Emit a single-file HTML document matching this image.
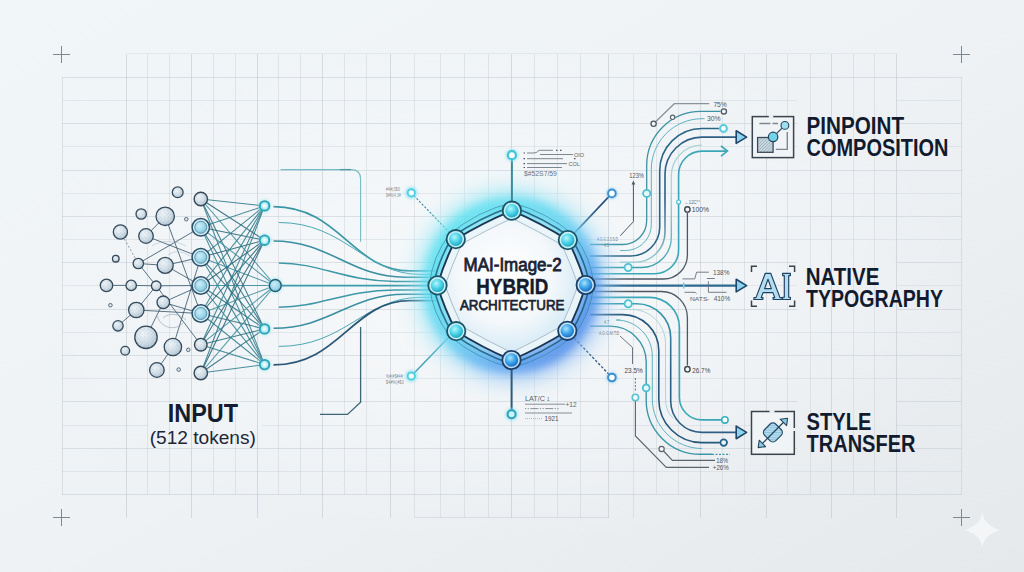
<!DOCTYPE html><html><head><meta charset="utf-8"><style>
html,body{margin:0;padding:0;width:1024px;height:572px;overflow:hidden;background:#eceff3;}
svg{display:block;}
text{font-family:"Liberation Sans",sans-serif;}
</style></head><body>
<svg width="1024" height="572" viewBox="0 0 1024 572">
<defs>
<linearGradient id="bg" x1="0" y1="0" x2="1" y2="1">
<stop offset="0" stop-color="#f1f6f9"/><stop offset="0.5" stop-color="#eef2f5"/><stop offset="1" stop-color="#e6e9ec"/>
</linearGradient>
<radialGradient id="bgw" cx="0.5" cy="0.5" r="0.5">
<stop offset="0" stop-color="#ffffff" stop-opacity="0.55"/><stop offset="1" stop-color="#ffffff" stop-opacity="0"/>
</radialGradient>
<radialGradient id="gnode" cx="0.38" cy="0.35" r="0.75">
<stop offset="0" stop-color="#eef4f8"/><stop offset="0.55" stop-color="#d0dde6"/><stop offset="1" stop-color="#a9bccb"/>
</radialGradient>
<pattern id="speck" width="4" height="4" patternUnits="userSpaceOnUse"><circle cx="0.8" cy="0.9" r="0.45" fill="#7d95a6" fill-opacity="0.55"/><circle cx="2.9" cy="2.6" r="0.4" fill="#7d95a6" fill-opacity="0.45"/><circle cx="2.2" cy="0.5" r="0.3" fill="#ffffff" fill-opacity="0.7"/></pattern>
<radialGradient id="cnode" cx="0.4" cy="0.38" r="0.65">
<stop offset="0" stop-color="#cdeef7"/><stop offset="0.6" stop-color="#a0d8ea"/><stop offset="1" stop-color="#7cc2da"/>
</radialGradient>
<radialGradient id="tnode" cx="0.5" cy="0.5" r="0.5">
<stop offset="0" stop-color="#ffffff"/><stop offset="0.5" stop-color="#c8f2f8"/><stop offset="1" stop-color="#6fd3e2"/>
</radialGradient>
<radialGradient id="hnode" cx="0.4" cy="0.35" r="0.65">
<stop offset="0" stop-color="#b4f6fb"/><stop offset="0.55" stop-color="#4fd5e8"/><stop offset="1" stop-color="#22a9c6"/>
</radialGradient>
<radialGradient id="hnodeb" cx="0.4" cy="0.35" r="0.65">
<stop offset="0" stop-color="#a8e4fb"/><stop offset="0.55" stop-color="#3fa6ea"/><stop offset="1" stop-color="#1f6fc4"/>
</radialGradient>
<radialGradient id="hubin" cx="0.45" cy="0.42" r="0.6">
<stop offset="0" stop-color="#ffffff"/><stop offset="0.6" stop-color="#f4f8fb"/><stop offset="1" stop-color="#d3e9f5"/>
</radialGradient>
<filter id="blur8" x="-50%" y="-50%" width="200%" height="200%"><feGaussianBlur stdDeviation="9"/></filter><filter id="blur10" x="-50%" y="-50%" width="200%" height="200%"><feGaussianBlur stdDeviation="10"/></filter><filter id="blur12" x="-50%" y="-50%" width="200%" height="200%"><feGaussianBlur stdDeviation="13"/></filter>
<filter id="blur3" x="-50%" y="-50%" width="200%" height="200%"><feGaussianBlur stdDeviation="5"/></filter>
<filter id="blur05" x="-50%" y="-50%" width="200%" height="200%"><feGaussianBlur stdDeviation="0.6"/></filter><filter id="blur1" x="-50%" y="-50%" width="200%" height="200%"><feGaussianBlur stdDeviation="1.2"/></filter>
<pattern id="hatch" width="2.2" height="2.2" patternUnits="userSpaceOnUse" patternTransform="rotate(45)"><rect width="2.2" height="2.2" fill="#cfdde6"/><rect width="0.9" height="2.2" fill="#9fb3c1"/></pattern><pattern id="stripe" width="2.4" height="2.4" patternUnits="userSpaceOnUse" patternTransform="rotate(45)"><rect width="2.4" height="2.4" fill="#b5dcee"/><rect width="0.9" height="2.4" fill="#8cc3de"/></pattern><pattern id="dots" width="3" height="3" patternUnits="userSpaceOnUse"><rect width="3" height="3" fill="#b8cad6"/><circle cx="1" cy="1" r="0.7" fill="#e8f0f5"/></pattern>
</defs>
<rect width="1024" height="572" fill="url(#bg)"/>
<ellipse cx="500" cy="290" rx="480" ry="260" fill="url(#bgw)"/>
<g shape-rendering="crispEdges" stroke-width="1"><line x1="62" y1="77.3" x2="962" y2="77.3" stroke="#c4ccd4" stroke-opacity="0.55" /><line x1="62" y1="100.5" x2="797" y2="100.5" stroke="#c4ccd4" stroke-opacity="0.35" /><line x1="897" y1="100.5" x2="962" y2="100.5" stroke="#c4ccd4" stroke-opacity="0.35" /><line x1="62" y1="123.7" x2="797" y2="123.7" stroke="#c4ccd4" stroke-opacity="0.55" /><line x1="897" y1="123.7" x2="962" y2="123.7" stroke="#c4ccd4" stroke-opacity="0.55" /><line x1="62" y1="146.8" x2="797" y2="146.8" stroke="#c4ccd4" stroke-opacity="0.35" /><line x1="897" y1="146.8" x2="962" y2="146.8" stroke="#c4ccd4" stroke-opacity="0.35" /><line x1="62" y1="170.0" x2="962" y2="170.0" stroke="#c4ccd4" stroke-opacity="0.55" /><line x1="62" y1="193.2" x2="962" y2="193.2" stroke="#c4ccd4" stroke-opacity="0.35" /><line x1="62" y1="216.4" x2="962" y2="216.4" stroke="#c4ccd4" stroke-opacity="0.55" /><line x1="62" y1="239.6" x2="962" y2="239.6" stroke="#c4ccd4" stroke-opacity="0.35" /><line x1="62" y1="262.7" x2="797" y2="262.7" stroke="#c4ccd4" stroke-opacity="0.55" /><line x1="897" y1="262.7" x2="962" y2="262.7" stroke="#c4ccd4" stroke-opacity="0.55" /><line x1="62" y1="285.9" x2="797" y2="285.9" stroke="#c4ccd4" stroke-opacity="0.35" /><line x1="897" y1="285.9" x2="962" y2="285.9" stroke="#c4ccd4" stroke-opacity="0.35" /><line x1="62" y1="309.1" x2="797" y2="309.1" stroke="#c4ccd4" stroke-opacity="0.55" /><line x1="897" y1="309.1" x2="962" y2="309.1" stroke="#c4ccd4" stroke-opacity="0.55" /><line x1="62" y1="332.3" x2="962" y2="332.3" stroke="#c4ccd4" stroke-opacity="0.35" /><line x1="62" y1="355.5" x2="962" y2="355.5" stroke="#c4ccd4" stroke-opacity="0.55" /><line x1="62" y1="378.6" x2="962" y2="378.6" stroke="#c4ccd4" stroke-opacity="0.35" /><line x1="62" y1="401.8" x2="797" y2="401.8" stroke="#c4ccd4" stroke-opacity="0.55" /><line x1="897" y1="401.8" x2="962" y2="401.8" stroke="#c4ccd4" stroke-opacity="0.55" /><line x1="62" y1="425.0" x2="148" y2="425.0" stroke="#c4ccd4" stroke-opacity="0.35" /><line x1="262" y1="425.0" x2="797" y2="425.0" stroke="#c4ccd4" stroke-opacity="0.35" /><line x1="897" y1="425.0" x2="962" y2="425.0" stroke="#c4ccd4" stroke-opacity="0.35" /><line x1="62" y1="448.2" x2="797" y2="448.2" stroke="#c4ccd4" stroke-opacity="0.55" /><line x1="897" y1="448.2" x2="962" y2="448.2" stroke="#c4ccd4" stroke-opacity="0.55" /><line x1="62" y1="471.4" x2="962" y2="471.4" stroke="#c4ccd4" stroke-opacity="0.35" /><line x1="62" y1="494.5" x2="962" y2="494.5" stroke="#c4ccd4" stroke-opacity="0.55" /><line x1="62.5" y1="77.3" x2="62.5" y2="494.9" stroke="#c4ccd4" stroke-opacity="0.55"/><line x1="414.9" y1="517.5" x2="608.5" y2="517.5" stroke="#c0c8d0" stroke-opacity="0.45"/><line x1="126.9" y1="53.5" x2="896.5" y2="53.5" stroke="#c4ccd4" stroke-opacity="0.3"/><line x1="961.8" y1="77.3" x2="961.8" y2="494.9" stroke="#c4ccd4" stroke-opacity="0.55"/><line x1="126.9" y1="53.5" x2="126.9" y2="517.5" stroke="#c0c8d0" stroke-opacity="0.6" /><line x1="147.5" y1="53.5" x2="147.5" y2="494.9" stroke="#c0c8d0" stroke-opacity="0.38" /><line x1="169.4" y1="53.5" x2="169.4" y2="494.9" stroke="#c0c8d0" stroke-opacity="0.38" /><line x1="191.3" y1="53.5" x2="191.3" y2="517.5" stroke="#c0c8d0" stroke-opacity="0.6" /><line x1="213.4" y1="53.5" x2="213.4" y2="494.9" stroke="#c0c8d0" stroke-opacity="0.38" /><line x1="235.3" y1="53.5" x2="235.3" y2="494.9" stroke="#c0c8d0" stroke-opacity="0.38" /><line x1="257.5" y1="53.5" x2="257.5" y2="517.5" stroke="#c0c8d0" stroke-opacity="0.6" /><line x1="278.7" y1="53.5" x2="278.7" y2="494.9" stroke="#c0c8d0" stroke-opacity="0.38" /><line x1="300.9" y1="53.5" x2="300.9" y2="494.9" stroke="#c0c8d0" stroke-opacity="0.38" /><line x1="322.6" y1="53.5" x2="322.6" y2="517.5" stroke="#c0c8d0" stroke-opacity="0.6" /><line x1="344.7" y1="53.5" x2="344.7" y2="494.9" stroke="#c0c8d0" stroke-opacity="0.38" /><line x1="366.6" y1="53.5" x2="366.6" y2="494.9" stroke="#c0c8d0" stroke-opacity="0.38" /><line x1="390.2" y1="53.5" x2="390.2" y2="517.5" stroke="#c0c8d0" stroke-opacity="0.6" /><line x1="414.9" y1="53.5" x2="414.9" y2="517.5" stroke="#c0c8d0" stroke-opacity="0.38" /><line x1="440.5" y1="53.5" x2="440.5" y2="517.5" stroke="#c0c8d0" stroke-opacity="0.38" /><line x1="464.6" y1="53.5" x2="464.6" y2="517.5" stroke="#c0c8d0" stroke-opacity="0.38" /><line x1="488.1" y1="53.5" x2="488.1" y2="517.5" stroke="#c0c8d0" stroke-opacity="0.38" /><line x1="511.6" y1="53.5" x2="511.6" y2="517.5" stroke="#c0c8d0" stroke-opacity="0.6" /><line x1="534.4" y1="53.5" x2="534.4" y2="517.5" stroke="#c0c8d0" stroke-opacity="0.38" /><line x1="557.9" y1="53.5" x2="557.9" y2="517.5" stroke="#c0c8d0" stroke-opacity="0.38" /><line x1="580.5" y1="53.5" x2="580.5" y2="517.5" stroke="#c0c8d0" stroke-opacity="0.38" /><line x1="608.5" y1="53.5" x2="608.5" y2="517.5" stroke="#c0c8d0" stroke-opacity="0.6" /><line x1="633.2" y1="53.5" x2="633.2" y2="517.5" stroke="#c0c8d0" stroke-opacity="0.38" /><line x1="656.4" y1="53.5" x2="656.4" y2="494.9" stroke="#c0c8d0" stroke-opacity="0.38" /><line x1="678.3" y1="53.5" x2="678.3" y2="494.9" stroke="#c0c8d0" stroke-opacity="0.38" /><line x1="700.9" y1="53.5" x2="700.9" y2="517.5" stroke="#c0c8d0" stroke-opacity="0.6" /><line x1="722.3" y1="53.5" x2="722.3" y2="494.9" stroke="#c0c8d0" stroke-opacity="0.38" /><line x1="744.7" y1="53.5" x2="744.7" y2="494.9" stroke="#c0c8d0" stroke-opacity="0.38" /><line x1="766.6" y1="53.5" x2="766.6" y2="517.5" stroke="#c0c8d0" stroke-opacity="0.6" /><line x1="787.9" y1="53.5" x2="787.9" y2="494.9" stroke="#c0c8d0" stroke-opacity="0.38" /><line x1="810.3" y1="53.5" x2="810.3" y2="494.9" stroke="#c0c8d0" stroke-opacity="0.38" /><line x1="831.6" y1="53.5" x2="831.6" y2="517.5" stroke="#c0c8d0" stroke-opacity="0.6" /><line x1="853.5" y1="53.5" x2="853.5" y2="494.9" stroke="#c0c8d0" stroke-opacity="0.38" /><line x1="874.6" y1="53.5" x2="874.6" y2="494.9" stroke="#c0c8d0" stroke-opacity="0.38" /><line x1="896.5" y1="53.5" x2="896.5" y2="517.5" stroke="#c0c8d0" stroke-opacity="0.6" /></g>
<path d="M53.0,54.5H70.0M61.5,46.0V63.0" stroke="#80888f" stroke-width="1"/><path d="M953.0,54.5H970.0M961.5,46.0V63.0" stroke="#80888f" stroke-width="1"/><path d="M53.0,517.5H70.0M61.5,509.0V526.0" stroke="#80888f" stroke-width="1"/><path d="M953.0,517.5H970.0M961.5,509.0V526.0" stroke="#80888f" stroke-width="1"/>

<g id="leftnet"><line x1="200.8" y1="199.0" x2="264.6" y2="205.9" stroke="#327d8c" stroke-width="1.05" stroke-opacity="0.9"/><line x1="200.8" y1="199.0" x2="264.6" y2="240.2" stroke="#2b6475" stroke-width="1.05" stroke-opacity="0.9"/><line x1="200.8" y1="199.0" x2="275.3" y2="285.5" stroke="#3d8d9b" stroke-width="1.05" stroke-opacity="0.9"/><line x1="200.8" y1="199.0" x2="264.6" y2="328.9" stroke="#2f6f80" stroke-width="1.05" stroke-opacity="0.9"/><line x1="200.8" y1="199.0" x2="264.6" y2="364.6" stroke="#368291" stroke-width="1.05" stroke-opacity="0.9"/><line x1="200.8" y1="227.3" x2="264.6" y2="205.9" stroke="#327d8c" stroke-width="1.05" stroke-opacity="0.9"/><line x1="200.8" y1="227.3" x2="264.6" y2="240.2" stroke="#2b6475" stroke-width="1.05" stroke-opacity="0.9"/><line x1="200.8" y1="227.3" x2="275.3" y2="285.5" stroke="#3d8d9b" stroke-width="1.05" stroke-opacity="0.9"/><line x1="200.8" y1="227.3" x2="264.6" y2="328.9" stroke="#2f6f80" stroke-width="1.05" stroke-opacity="0.9"/><line x1="200.8" y1="227.3" x2="264.6" y2="364.6" stroke="#368291" stroke-width="1.05" stroke-opacity="0.9"/><line x1="200.8" y1="257.3" x2="264.6" y2="205.9" stroke="#327d8c" stroke-width="1.05" stroke-opacity="0.9"/><line x1="200.8" y1="257.3" x2="264.6" y2="240.2" stroke="#2b6475" stroke-width="1.05" stroke-opacity="0.9"/><line x1="200.8" y1="257.3" x2="275.3" y2="285.5" stroke="#3d8d9b" stroke-width="1.05" stroke-opacity="0.9"/><line x1="200.8" y1="257.3" x2="264.6" y2="328.9" stroke="#2f6f80" stroke-width="1.05" stroke-opacity="0.9"/><line x1="200.8" y1="257.3" x2="264.6" y2="364.6" stroke="#368291" stroke-width="1.05" stroke-opacity="0.9"/><line x1="200.8" y1="285.5" x2="264.6" y2="205.9" stroke="#327d8c" stroke-width="1.05" stroke-opacity="0.9"/><line x1="200.8" y1="285.5" x2="264.6" y2="240.2" stroke="#2b6475" stroke-width="1.05" stroke-opacity="0.9"/><line x1="200.8" y1="285.5" x2="275.3" y2="285.5" stroke="#3d8d9b" stroke-width="1.05" stroke-opacity="0.9"/><line x1="200.8" y1="285.5" x2="264.6" y2="328.9" stroke="#2f6f80" stroke-width="1.05" stroke-opacity="0.9"/><line x1="200.8" y1="285.5" x2="264.6" y2="364.6" stroke="#368291" stroke-width="1.05" stroke-opacity="0.9"/><line x1="200.8" y1="313.5" x2="264.6" y2="205.9" stroke="#327d8c" stroke-width="1.05" stroke-opacity="0.9"/><line x1="200.8" y1="313.5" x2="264.6" y2="240.2" stroke="#2b6475" stroke-width="1.05" stroke-opacity="0.9"/><line x1="200.8" y1="313.5" x2="275.3" y2="285.5" stroke="#3d8d9b" stroke-width="1.05" stroke-opacity="0.9"/><line x1="200.8" y1="313.5" x2="264.6" y2="328.9" stroke="#2f6f80" stroke-width="1.05" stroke-opacity="0.9"/><line x1="200.8" y1="313.5" x2="264.6" y2="364.6" stroke="#368291" stroke-width="1.05" stroke-opacity="0.9"/><line x1="200.8" y1="344.7" x2="264.6" y2="205.9" stroke="#327d8c" stroke-width="1.05" stroke-opacity="0.9"/><line x1="200.8" y1="344.7" x2="264.6" y2="240.2" stroke="#2b6475" stroke-width="1.05" stroke-opacity="0.9"/><line x1="200.8" y1="344.7" x2="275.3" y2="285.5" stroke="#3d8d9b" stroke-width="1.05" stroke-opacity="0.9"/><line x1="200.8" y1="344.7" x2="264.6" y2="328.9" stroke="#2f6f80" stroke-width="1.05" stroke-opacity="0.9"/><line x1="200.8" y1="344.7" x2="264.6" y2="364.6" stroke="#368291" stroke-width="1.05" stroke-opacity="0.9"/><line x1="200.8" y1="373.0" x2="264.6" y2="205.9" stroke="#327d8c" stroke-width="1.05" stroke-opacity="0.9"/><line x1="200.8" y1="373.0" x2="264.6" y2="240.2" stroke="#2b6475" stroke-width="1.05" stroke-opacity="0.9"/><line x1="200.8" y1="373.0" x2="275.3" y2="285.5" stroke="#3d8d9b" stroke-width="1.05" stroke-opacity="0.9"/><line x1="200.8" y1="373.0" x2="264.6" y2="328.9" stroke="#2f6f80" stroke-width="1.05" stroke-opacity="0.9"/><line x1="200.8" y1="373.0" x2="264.6" y2="364.6" stroke="#368291" stroke-width="1.05" stroke-opacity="0.9"/><line x1="106.5" y1="285.4" x2="131.2" y2="285.4" stroke="#3d5b6e" stroke-width="1.0" stroke-opacity="0.85"/><line x1="131.2" y1="285.4" x2="156.2" y2="285.8" stroke="#3d5b6e" stroke-width="1.0" stroke-opacity="0.85"/><line x1="156.2" y1="285.8" x2="200.8" y2="285.5" stroke="#3d5b6e" stroke-width="1.0" stroke-opacity="0.85"/><line x1="146" y1="236" x2="165.2" y2="216.3" stroke="#3d5b6e" stroke-width="1.0" stroke-opacity="0.85"/><line x1="146" y1="236" x2="200.8" y2="257.3" stroke="#3d5b6e" stroke-width="1.0" stroke-opacity="0.85"/><line x1="138.3" y1="263.5" x2="200.8" y2="227.3" stroke="#3d5b6e" stroke-width="1.0" stroke-opacity="0.85"/><line x1="138.3" y1="263.5" x2="165.2" y2="265.4" stroke="#3d5b6e" stroke-width="1.0" stroke-opacity="0.85"/><line x1="165.2" y1="216.3" x2="200.8" y2="313.5" stroke="#3d5b6e" stroke-width="1.0" stroke-opacity="0.85"/><line x1="136.3" y1="310" x2="118" y2="325.8" stroke="#3d5b6e" stroke-width="1.0" stroke-opacity="0.85"/><line x1="136.3" y1="310" x2="156.2" y2="285.8" stroke="#3d5b6e" stroke-width="1.0" stroke-opacity="0.85"/><line x1="136.3" y1="310" x2="200.8" y2="313.5" stroke="#3d5b6e" stroke-width="1.0" stroke-opacity="0.85"/><line x1="165.2" y1="265.4" x2="200.8" y2="257.3" stroke="#3d5b6e" stroke-width="1.0" stroke-opacity="0.85"/><line x1="165.2" y1="265.4" x2="200.8" y2="285.5" stroke="#3d5b6e" stroke-width="1.0" stroke-opacity="0.85"/><line x1="146" y1="337.3" x2="163.3" y2="302.3" stroke="#3d5b6e" stroke-width="1.0" stroke-opacity="0.85"/><line x1="172.9" y1="347" x2="156.9" y2="370" stroke="#3d5b6e" stroke-width="1.0" stroke-opacity="0.85"/><line x1="172.9" y1="347" x2="200.8" y2="257.3" stroke="#3d5b6e" stroke-width="1.0" stroke-opacity="0.85"/><line x1="138.3" y1="263.5" x2="156.2" y2="285.8" stroke="#3d5b6e" stroke-width="1.0" stroke-opacity="0.85"/><line x1="156.2" y1="285.8" x2="200.8" y2="344.7" stroke="#3d5b6e" stroke-width="1.0" stroke-opacity="0.85"/><line x1="163.3" y1="302.3" x2="200.8" y2="313.5" stroke="#3d5b6e" stroke-width="1.0" stroke-opacity="0.85"/><line x1="163.3" y1="302.3" x2="200.8" y2="285.5" stroke="#3d5b6e" stroke-width="1.0" stroke-opacity="0.85"/><path d="M120.4,232 L138.3,263.5" stroke="#7a8b97" stroke-width="0.9" stroke-dasharray="2 2"/><path d="M157.5,316 C160,328 176,332 184,322 M163,318 C170,312 180,314 186,320" fill="none" stroke="#8a9ba8" stroke-width="0.8" stroke-opacity="0.7"/><path d="M152,246 C160,240 175,240 186,246 M168,255 C175,250 182,251 190,256" fill="none" stroke="#9aabb8" stroke-width="0.7" stroke-opacity="0.6"/><circle cx="177.7" cy="192.3" r="5.4" fill="url(#gnode)" stroke="#34495a" stroke-width="1.3"/><circle cx="177.7" cy="192.3" r="4.6000000000000005" fill="url(#speck)"/><circle cx="165.2" cy="216.3" r="9.2" fill="url(#gnode)" stroke="#34495a" stroke-width="1.3"/><circle cx="165.2" cy="216.3" r="8.399999999999999" fill="url(#speck)"/><circle cx="141.2" cy="214" r="5.2" fill="url(#gnode)" stroke="#34495a" stroke-width="1.3"/><circle cx="141.2" cy="214" r="4.4" fill="url(#speck)"/><circle cx="120.4" cy="232" r="7.1" fill="url(#gnode)" stroke="#34495a" stroke-width="1.3"/><circle cx="120.4" cy="232" r="6.3" fill="url(#speck)"/><circle cx="146" cy="236" r="7.3" fill="url(#gnode)" stroke="#34495a" stroke-width="1.3"/><circle cx="146" cy="236" r="6.5" fill="url(#speck)"/><circle cx="115.8" cy="258.7" r="3.3" fill="url(#gnode)" stroke="#34495a" stroke-width="1.3"/><circle cx="115.8" cy="258.7" r="2.5" fill="url(#speck)"/><circle cx="138.3" cy="263.5" r="5.2" fill="url(#gnode)" stroke="#34495a" stroke-width="1.3"/><circle cx="138.3" cy="263.5" r="4.4" fill="url(#speck)"/><circle cx="165.2" cy="265.4" r="8" fill="url(#gnode)" stroke="#34495a" stroke-width="1.3"/><circle cx="165.2" cy="265.4" r="7.2" fill="url(#speck)"/><circle cx="106.5" cy="285.4" r="6.2" fill="url(#gnode)" stroke="#34495a" stroke-width="1.3"/><circle cx="106.5" cy="285.4" r="5.4" fill="url(#speck)"/><circle cx="131.2" cy="285.4" r="5.2" fill="url(#gnode)" stroke="#34495a" stroke-width="1.3"/><circle cx="131.2" cy="285.4" r="4.4" fill="url(#speck)"/><circle cx="156.2" cy="285.8" r="4.8" fill="url(#gnode)" stroke="#34495a" stroke-width="1.3"/><circle cx="156.2" cy="285.8" r="4.0" fill="url(#speck)"/><circle cx="136.3" cy="310" r="7.7" fill="url(#gnode)" stroke="#34495a" stroke-width="1.3"/><circle cx="136.3" cy="310" r="6.9" fill="url(#speck)"/><circle cx="163.3" cy="302.3" r="6.3" fill="url(#gnode)" stroke="#34495a" stroke-width="1.3"/><circle cx="163.3" cy="302.3" r="5.5" fill="url(#speck)"/><circle cx="118" cy="325.8" r="5.2" fill="url(#gnode)" stroke="#34495a" stroke-width="1.3"/><circle cx="118" cy="325.8" r="4.4" fill="url(#speck)"/><circle cx="146" cy="337.3" r="11.2" fill="url(#gnode)" stroke="#34495a" stroke-width="1.3"/><circle cx="146" cy="337.3" r="10.399999999999999" fill="url(#speck)"/><circle cx="172.9" cy="347" r="8.7" fill="url(#gnode)" stroke="#34495a" stroke-width="1.3"/><circle cx="172.9" cy="347" r="7.8999999999999995" fill="url(#speck)"/><circle cx="125.2" cy="350.8" r="4.4" fill="url(#gnode)" stroke="#34495a" stroke-width="1.3"/><circle cx="125.2" cy="350.8" r="3.6000000000000005" fill="url(#speck)"/><circle cx="156.9" cy="370" r="7.3" fill="url(#gnode)" stroke="#34495a" stroke-width="1.3"/><circle cx="156.9" cy="370" r="6.5" fill="url(#speck)"/><circle cx="186.3" cy="219.2" r="1.8" fill="#dfe6eb" stroke="#4b5f6e" stroke-width="0.9"/><circle cx="110.4" cy="305.2" r="1.8" fill="#dfe6eb" stroke="#4b5f6e" stroke-width="0.9"/><circle cx="188.3" cy="349.8" r="1.8" fill="#dfe6eb" stroke="#4b5f6e" stroke-width="0.9"/><circle cx="178.7" cy="369.6" r="1.8" fill="#dfe6eb" stroke="#4b5f6e" stroke-width="0.9"/><circle cx="200.8" cy="199.0" r="6.7" fill="url(#gnode)" stroke="#34495a" stroke-width="1.4"/><circle cx="200.8" cy="199.0" r="5.9" fill="url(#speck)"/><circle cx="200.8" cy="227.3" r="8.7" fill="#d3ebf4" stroke="#2c5066" stroke-width="1.5"/><circle cx="200.8" cy="227.3" r="5.999999999999999" fill="url(#cnode)" stroke="#4f8ea6" stroke-width="0.9"/><circle cx="200.8" cy="257.3" r="8.7" fill="#d3ebf4" stroke="#2c5066" stroke-width="1.5"/><circle cx="200.8" cy="257.3" r="5.999999999999999" fill="url(#cnode)" stroke="#4f8ea6" stroke-width="0.9"/><circle cx="200.8" cy="285.5" r="8.7" fill="#d3ebf4" stroke="#2c5066" stroke-width="1.5"/><circle cx="200.8" cy="285.5" r="5.999999999999999" fill="url(#cnode)" stroke="#4f8ea6" stroke-width="0.9"/><circle cx="200.8" cy="313.5" r="8.7" fill="#d3ebf4" stroke="#2c5066" stroke-width="1.5"/><circle cx="200.8" cy="313.5" r="5.999999999999999" fill="url(#cnode)" stroke="#4f8ea6" stroke-width="0.9"/><circle cx="200.8" cy="344.7" r="6.3" fill="url(#gnode)" stroke="#34495a" stroke-width="1.4"/><circle cx="200.8" cy="344.7" r="5.5" fill="url(#speck)"/><circle cx="200.8" cy="373.0" r="6.7" fill="url(#gnode)" stroke="#34495a" stroke-width="1.4"/><circle cx="200.8" cy="373.0" r="5.9" fill="url(#speck)"/><circle cx="264.6" cy="205.9" r="7.3" fill="#8fe6f2" fill-opacity="0.35" filter="url(#blur1)"/><circle cx="264.6" cy="205.9" r="4.8" fill="url(#tnode)" stroke="#2aa3b8" stroke-width="1.8"/><circle cx="264.6" cy="240.2" r="7.3" fill="#8fe6f2" fill-opacity="0.35" filter="url(#blur1)"/><circle cx="264.6" cy="240.2" r="4.8" fill="url(#tnode)" stroke="#2aa3b8" stroke-width="1.8"/><circle cx="275.3" cy="285.5" r="8.5" fill="#8fe6f2" fill-opacity="0.35" filter="url(#blur1)"/><circle cx="275.3" cy="285.5" r="5.9" fill="url(#cnode)" stroke="#235f74" stroke-width="1.5"/><circle cx="264.6" cy="328.9" r="7.3" fill="#8fe6f2" fill-opacity="0.35" filter="url(#blur1)"/><circle cx="264.6" cy="328.9" r="4.8" fill="url(#tnode)" stroke="#2aa3b8" stroke-width="1.8"/><circle cx="264.6" cy="364.6" r="7.3" fill="#8fe6f2" fill-opacity="0.35" filter="url(#blur1)"/><circle cx="264.6" cy="364.6" r="4.8" fill="url(#tnode)" stroke="#2aa3b8" stroke-width="1.8"/></g>
<g id="leftcurves"><path d="M273.5,206.7 C340,206.7 352,270.8 410,270.8 L436,270.8" fill="none" stroke="#3a97a6" stroke-width="1.7" stroke-opacity="1"/><path d="M278.8,222.5 C345,222.5 365,274.4 420,274.4 L436,274.4" fill="none" stroke="#4aa7b3" stroke-width="1.0" stroke-opacity="1"/><path d="M273.5,241.0 C330,241.0 350,277.2 405,277.2 L434,277.2" fill="none" stroke="#3a8fa0" stroke-width="1.6" stroke-opacity="1"/><path d="M278.8,263.0 C320,263.0 345,281.4 395,281.4 L434,281.4" fill="none" stroke="#3d98a8" stroke-width="1.5" stroke-opacity="1"/><path d="M282,285.6 L430,285.6" stroke="#3b9cad" stroke-width="1.9"/><path d="M278.8,307.2 C320,307.2 345,290.0 395,290.0 L434,290.0" fill="none" stroke="#3d98a8" stroke-width="1.5" stroke-opacity="1"/><path d="M273.5,328.3 C330,328.3 350,294.2 405,294.2 L434,294.2" fill="none" stroke="#3a8fa0" stroke-width="1.6" stroke-opacity="1"/><path d="M278.8,346.4 C345,346.4 365,297.4 420,297.4 L436,297.4" fill="none" stroke="#4aa7b3" stroke-width="1.0" stroke-opacity="1"/><path d="M273.5,364.9 C340,364.9 352,300.7 410,300.7 L436,300.7" fill="none" stroke="#2c5878" stroke-width="1.8" stroke-opacity="1"/><path d="M280.5,169.6 H351 Q360.6,169.6 360.6,179 V241.8" fill="none" stroke="#74bcc6" stroke-width="1.1"/><path d="M340,169.6 H351" fill="none" stroke="#4f98a6" stroke-width="1.3"/><path d="M360.6,327 V402.2 L347.5,414.4 H320" fill="none" stroke="#3e6478" stroke-width="1.3"/><line x1="411.3" y1="192.8" x2="455.8" y2="239.2" stroke="#3a8a9a" stroke-width="1.1" stroke-dasharray="2.2 1.6"/><line x1="411.3" y1="376" x2="455.8" y2="330" stroke="#3aa0b2" stroke-width="1.4"/><circle cx="411.3" cy="192.8" r="6.5" fill="#7fe4f2" fill-opacity="0.55" filter="url(#blur1)"/><circle cx="411.3" cy="192.8" r="3.6" fill="#ffffff" stroke="#4fd0e2" stroke-width="2"/><circle cx="411.3" cy="376" r="6.5" fill="#7fe4f2" fill-opacity="0.55" filter="url(#blur1)"/><circle cx="411.3" cy="376" r="3.6" fill="#ffffff" stroke="#4fd0e2" stroke-width="2"/><text x="386" y="190.5" font-size="5" fill="#7d8790" letter-spacing="0.3" textLength="14" lengthAdjust="spacingAndGlyphs">#4#(3$0</text><text x="386" y="196.5" font-size="5" fill="#7d8790" letter-spacing="0.3" textLength="15" lengthAdjust="spacingAndGlyphs">$#%(4,3#</text><text x="386" y="378" font-size="5" fill="#7d8790" letter-spacing="0.3" textLength="17" lengthAdjust="spacingAndGlyphs">%#(#$#4#</text><text x="386" y="384" font-size="5" fill="#7d8790" letter-spacing="0.3" textLength="18" lengthAdjust="spacingAndGlyphs">$4#%(#$3</text></g>
<g id="rightlines"><linearGradient id="gu4" gradientUnits="userSpaceOnUse" x1="0" y1="262" x2="0" y2="200"><stop offset="0" stop-color="#9fd0d6"/><stop offset="1" stop-color="#2d5f86"/></linearGradient><linearGradient id="gu5" gradientUnits="userSpaceOnUse" x1="0" y1="267" x2="0" y2="190"><stop offset="0" stop-color="#3aa0b0"/><stop offset="1" stop-color="#a9d6d8"/></linearGradient><linearGradient id="gd2" gradientUnits="userSpaceOnUse" x1="0" y1="304" x2="0" y2="370"><stop offset="0" stop-color="#3aa0b0"/><stop offset="1" stop-color="#2d5f86"/></linearGradient><path d="M590,244.5 H622.7 C636.0,244.5 646.7,233.8 646.7,220.5 V165.4 C646.7,135.6 670.9,111.4 700.7,111.4 H720.5" fill="none" stroke="#3f92a3" stroke-width="1.3"/><path d="M620,250.5 H625.3 C639.7,250.5 651.3,238.9 651.3,224.5 V169.4 C651.3,141.4 674.0,118.7 702.0,118.7 H704.6" fill="none" stroke="#5fb3bf" stroke-width="1.0"/><path d="M590,256.0 H630.7 C646.7,256.0 659.7,243.0 659.7,227.0 V170.8 C659.7,147.4 678.6,128.5 702.0,128.5 H719.5" fill="none" stroke="#2b6585" stroke-width="1.6"/><path d="M620,262.3 H635.0 C651.6,262.3 665.0,248.9 665.0,232.3 V174.1 C665.0,153.7 681.6,137.1 702.0,137.1 H736" fill="none" stroke="url(#gu4)" stroke-width="1.6"/><path d="M590,267.5 H641.3 C657.9,267.5 671.3,254.1 671.3,237.5 V175.9 C671.3,158.9 685.0,145.2 702.0,145.2 H702.0" fill="none" stroke="url(#gu5)" stroke-width="1.3"/><path d="M590,273.8 H654.6 C667.9,273.8 678.6,263.1 678.6,249.8 V174.5 C678.6,161.6 689.1,151.1 702.0,151.1 H726" fill="none" stroke="#3aa7b6" stroke-width="1.6"/><path d="M594,279 H663.4 C676.7,279 687.4,268.3 687.4,255.0 V213" fill="none" stroke="#4c5864" stroke-width="1.3"/><path d="M590,297.4 H649.4 C666.0,297.4 679.4,310.8 679.4,327.4 V397.3 C679.4,409.8 689.5,419.9 702.0,419.9 H721.5" fill="none" stroke="#3aa7b6" stroke-width="1.6"/><path d="M590,303.7 H636.7 C655.5,303.7 670.7,318.9 670.7,337.7 V401.1 C670.7,418.4 684.7,432.4 702.0,432.4 H736" fill="none" stroke="url(#gd2)" stroke-width="1.6"/><path d="M590,314.6 H622.8 C642.7,314.6 658.8,330.7 658.8,350.6 V399.4 C658.8,423.3 678.1,442.6 702.0,442.6 H719.8" fill="none" stroke="#24577a" stroke-width="1.6"/><path d="M620,320.0 H616.3 C636.2,320.0 652.3,336.1 652.3,356.0 V398.8 C652.3,426.2 674.6,448.5 702.0,448.5 H702.0" fill="none" stroke="#5fb3bf" stroke-width="1.0"/><path d="M590,326.1 H610.2 C630.1,326.1 646.2,342.2 646.2,362.1 V400.3 C646.2,430.1 670.4,454.3 700.2,454.3 H712" fill="none" stroke="#3a97a9" stroke-width="1.4"/><path d="M594,291.5 H661.4 C675.8,291.5 687.4,303.1 687.4,317.5 V365.5" fill="none" stroke="#4c5864" stroke-width="1.3"/><path d="M620,309.4 H631.5 C650.3,309.4 665.5,324.6 665.5,343.4 V398 Q665.5,412 673,418" fill="none" stroke="#a9d6d8" stroke-width="1.0"/><path d="M712,454.3 H730" stroke="#3a97a9" stroke-width="1.2" stroke-dasharray="2 1.5"/><path d="M586,285.6 H737" stroke="#2d6a92" stroke-width="2.1"/><path d="M736.2,130.79999999999998 L746.6,137.1 L736.2,143.4 Z" fill="#8dd3ef" stroke="#1e4467" stroke-width="1.6" stroke-linejoin="round"/><path d="M736.2,279.3 L746.6,285.6 L736.2,291.90000000000003 Z" fill="#8dd3ef" stroke="#1e4467" stroke-width="1.6" stroke-linejoin="round"/><path d="M736.2,426.09999999999997 L746.6,432.4 L736.2,438.7 Z" fill="#8dd3ef" stroke="#1e4467" stroke-width="1.6" stroke-linejoin="round"/><path d="M721,146 L727.5,151.1 L721,156.2" fill="none" stroke="#3aa7b6" stroke-width="1.6"/><circle cx="723.9" cy="111.4" r="2.6" fill="#f4f7f9" stroke="#4c5864" stroke-width="1.3"/><circle cx="723.5" cy="128.5" r="4.6" fill="#8fe8f4" fill-opacity="0.5" filter="url(#blur1)"/><circle cx="723.5" cy="128.5" r="3.4" fill="#ffffff" stroke="#5cc9da" stroke-width="2"/><circle cx="724.9" cy="419.9" r="3.2" fill="#ffffff" stroke="#3ab0c0" stroke-width="1.6"/><circle cx="723.7" cy="442.6" r="3.3" fill="#e8f4fa" stroke="#25608a" stroke-width="1.8"/><circle cx="687.4" cy="209.4" r="2.7" fill="#f4f7f9" stroke="#3c4650" stroke-width="1.4"/><circle cx="687.4" cy="369.2" r="2.7" fill="#f4f7f9" stroke="#3c4650" stroke-width="1.4"/><circle cx="646.7" cy="193.4" r="3.6" fill="#e6fafc" stroke="#4cc0d0" stroke-width="1.8"/><circle cx="628.2" cy="267.5" r="3.6" fill="#e6fafc" stroke="#4cc0d0" stroke-width="1.8"/><circle cx="628.2" cy="303.7" r="3.6" fill="#e6fafc" stroke="#4cc0d0" stroke-width="1.8"/><circle cx="646.2" cy="387.9" r="3.4" fill="#e6fafc" stroke="#4cc0d0" stroke-width="1.8"/><circle cx="678.6" cy="202" r="2" fill="#e6fafc" stroke="#4cc0d0" stroke-width="1.1"/><circle cx="672.6" cy="117.3" r="2.2" fill="#f4f7f9" stroke="#56626c" stroke-width="1.1"/><path d="M653.6,123.8 L674.3,103.7 H709.2" fill="none" stroke="#8a949c" stroke-width="1.3"/><circle cx="653.6" cy="123.8" r="2.6" fill="#f4f7f9" stroke="#4c5864" stroke-width="1.3"/><path d="M661.6,449 L672.4,460.4 H715" fill="none" stroke="#5a646c" stroke-width="1.1"/><circle cx="661.6" cy="449" r="2.6" fill="#f4f7f9" stroke="#5a646c" stroke-width="1.2"/><path d="M635.4,400 V436 L666.3,467.4 H709" fill="none" stroke="#5a646c" stroke-width="1.1"/><circle cx="635.4" cy="397.5" r="3.2" fill="#eefafc" stroke="#5cc3d2" stroke-width="1.6"/><path d="M620.3,235.7 L633.4,221.7 V183" fill="none" stroke="#4c5864" stroke-width="1.0"/><path d="M631.6,184.5 L633.4,180.5 L635.2,184.5 Z" fill="#4c5864"/><path d="M620,336 L632.5,347.5 V364" fill="none" stroke="#5c6670" stroke-width="0.9"/><path d="M635.4,378 V392" stroke="#5a646c" stroke-width="0.9" stroke-dasharray="2 1.5"/><line x1="611.9" y1="193.4" x2="567.8" y2="240.1" stroke="#24507a" stroke-width="1.6"/><line x1="611.9" y1="377.5" x2="567.3" y2="330.8" stroke="#24507a" stroke-width="1.3" stroke-dasharray="2.5 1.8"/><circle cx="611.9" cy="193.4" r="6" fill="#7fc8f2" fill-opacity="0.5" filter="url(#blur1)"/><circle cx="611.9" cy="193.4" r="3.8" fill="#ffffff" stroke="#3a8fd0" stroke-width="2"/><circle cx="611.9" cy="377.5" r="6" fill="#7fc8f2" fill-opacity="0.5" filter="url(#blur1)"/><circle cx="611.9" cy="377.5" r="3.8" fill="#ffffff" stroke="#3a8fd0" stroke-width="2"/><path d="M682.5,278.9 H694.7 L696.6,272.2 H708.8 M706.9,278.5 H714.7" fill="none" stroke="#66707a" stroke-width="0.9"/><path d="M684.4,292.3 H694 Q695.8,292.3 696.5,293.5 M708.4,281.3 V292.3 H726.5" fill="none" stroke="#66707a" stroke-width="0.9"/><path d="M683.7,282.5 V288.5" stroke="#7fd0e0" stroke-width="1.6"/></g>
<g id="smalltext"><text x="713.4" y="106.8" font-size="7.6" fill="#4e5860" textLength="13.4" lengthAdjust="spacingAndGlyphs">75%</text><text x="706.9" y="121.4" font-size="7.6" fill="#4e5860" textLength="13.6" lengthAdjust="spacingAndGlyphs">30%</text><text x="691.7" y="211.9" font-size="7.6" fill="#3e4850" textLength="17.2" lengthAdjust="spacingAndGlyphs">100%</text><text x="692.3" y="373.3" font-size="7.6" fill="#3e4850" textLength="18" lengthAdjust="spacingAndGlyphs">26.7%</text><text x="624.5" y="373.3" font-size="7.6" fill="#3e4850" textLength="18.4" lengthAdjust="spacingAndGlyphs">23.5%</text><text x="712.9" y="274.6" font-size="7.2" fill="#4e5860" textLength="16.5" lengthAdjust="spacingAndGlyphs">138%</text><text x="713.7" y="301.2" font-size="7.2" fill="#4e5860" textLength="16.5" lengthAdjust="spacingAndGlyphs">410%</text><text x="690" y="301.2" font-size="6.2" fill="#58626a" textLength="19.6" lengthAdjust="spacingAndGlyphs">NATS-</text><text x="716.3" y="462.9" font-size="7.2" fill="#4e5860" textLength="11.8" lengthAdjust="spacingAndGlyphs">18%</text><text x="712.8" y="469.9" font-size="7.2" fill="#4e5860" textLength="16" lengthAdjust="spacingAndGlyphs">+26%</text><text x="629.3" y="177.7" font-size="6.4" fill="#4e5860" textLength="14.6" lengthAdjust="spacingAndGlyphs">123%</text><text x="597" y="240.5" font-size="5" fill="#66707a" textLength="21" lengthAdjust="spacingAndGlyphs">A.G.G.3.3.S.D</text><text x="599" y="334.5" font-size="5" fill="#66707a" textLength="20" lengthAdjust="spacingAndGlyphs">A.G.G.M.T.D</text><text x="684.5" y="203.5" font-size="5" fill="#66707a" textLength="15.5" lengthAdjust="spacingAndGlyphs">&#8592;12C&#176;&#176;</text><text x="604" y="246.8" font-size="4.5" fill="#66707a" textLength="5" lengthAdjust="spacingAndGlyphs">4.5</text><text x="604" y="323.5" font-size="4.5" fill="#66707a" textLength="5" lengthAdjust="spacingAndGlyphs">4.7</text></g>
<g id="hub"><linearGradient id="glowg" x1="0.1" y1="0.1" x2="0.9" y2="0.9"><stop offset="0" stop-color="#4fe0ef"/><stop offset="0.45" stop-color="#55d2f0"/><stop offset="0.75" stop-color="#4f9ff0"/><stop offset="1" stop-color="#3f7ee8"/></linearGradient><circle cx="511.5" cy="285.2" r="98" fill="#d4f0f9" fill-opacity="0.5" filter="url(#blur12)"/><circle cx="511.5" cy="285.2" r="84" fill="none" stroke="url(#glowg)" stroke-width="24" stroke-opacity="0.38" filter="url(#blur10)"/><circle cx="511.5" cy="285.2" r="80" fill="none" stroke="url(#glowg)" stroke-width="16" stroke-opacity="0.72" filter="url(#blur3)"/><path d="M511.9,203.7 Q546.0,212.5 573.3,235.7 Q590.5,257.7 592.7,285.0 Q590.3,312.7 572.7,335.2 Q545.5,358.4 511.5,367.0 Q477.8,358.6 450.8,335.7 Q433.1,313.2 430.5,285.4 Q432.9,257.4 450.4,234.7 Q477.8,212.0 511.9,203.7 Z" fill="url(#glowg)" fill-opacity="0.35"/><path d="M511.9,202.7 Q546.4,211.7 574.0,235.1 Q591.4,257.4 593.7,285.0 Q591.1,313.1 573.5,335.9 Q545.9,359.2 511.5,368.0 Q477.4,359.4 450.0,336.3 Q432.2,313.6 429.5,285.4 Q432.0,257.1 449.6,234.1 Q477.4,211.1 511.9,202.7 Z" fill="none" stroke="#2c7f98" stroke-width="0.9" stroke-opacity="0.7"/><path d="M511.9,206.7 Q543.6,217.6 570.9,237.6 Q585.0,259.7 589.7,285.0 Q584.8,310.8 570.4,333.3 Q543.1,353.2 511.5,364.0 Q480.2,353.4 453.1,333.8 Q438.6,311.3 433.5,285.4 Q438.4,259.4 452.7,236.7 Q480.2,217.1 511.9,206.7 Z" fill="none" stroke="#1f5a78" stroke-width="1.6" stroke-opacity="0.85"/><path d="M511.9,210.7 Q540.9,223.1 567.8,240.1 Q579.1,261.7 585.7,285.0 Q578.9,308.7 567.3,330.8 Q540.5,347.7 511.5,360.0 Q482.8,347.9 456.2,331.2 Q444.5,309.1 437.5,285.4 Q444.3,261.5 455.8,239.2 Q482.8,222.7 511.9,210.7 Z" fill="#eaf5fa"/><path d="M511.9,218.2 Q537.3,230.6 561.9,244.8 Q571.0,264.6 578.2,285.0 Q570.8,305.9 561.5,326.1 Q536.9,340.2 511.5,352.5 Q486.3,340.4 462.0,326.4 Q452.5,306.2 445.0,285.4 Q452.3,264.3 461.6,244.0 Q486.3,230.2 511.9,218.2 Z" fill="url(#hubin)" stroke="#a3b5c2" stroke-width="0.9"/><path d="M511.9,210.7 Q540.9,223.1 567.8,240.1 Q579.1,261.7 585.7,285.0 Q578.9,308.7 567.3,330.8 Q540.5,347.7 511.5,360.0 Q482.8,347.9 456.2,331.2 Q444.5,309.1 437.5,285.4 Q444.3,261.5 455.8,239.2 Q482.8,222.7 511.9,210.7 Z" fill="none" stroke="#1b3653" stroke-width="1.9" stroke-linejoin="round"/><line x1="511.9" y1="159" x2="511.9" y2="202" stroke="#3a8a9c" stroke-width="2"/><line x1="511.6" y1="369" x2="511.6" y2="410.5" stroke="#2c5a78" stroke-width="2"/><circle cx="511.9" cy="210.7" r="9.2" fill="#c4f1f8" stroke="#1c5468" stroke-width="1.8"/><circle cx="511.9" cy="210.7" r="6.7" fill="url(#hnode)"/><circle cx="567.8" cy="240.1" r="9.2" fill="#c4f1f8" stroke="#1c5468" stroke-width="1.8"/><circle cx="567.8" cy="240.1" r="6.7" fill="url(#hnode)"/><circle cx="585.7" cy="285.0" r="9.2" fill="#c4e2f8" stroke="#1b3f66" stroke-width="1.8"/><circle cx="585.7" cy="285.0" r="6.7" fill="url(#hnodeb)"/><circle cx="567.3" cy="330.8" r="9.2" fill="#c4e2f8" stroke="#1b3f66" stroke-width="1.8"/><circle cx="567.3" cy="330.8" r="6.7" fill="url(#hnodeb)"/><circle cx="511.5" cy="360.0" r="9.2" fill="#c4e2f8" stroke="#1b3f66" stroke-width="1.8"/><circle cx="511.5" cy="360.0" r="6.7" fill="url(#hnodeb)"/><circle cx="456.2" cy="331.2" r="9.2" fill="#c4f1f8" stroke="#1c5468" stroke-width="1.8"/><circle cx="456.2" cy="331.2" r="6.7" fill="url(#hnode)"/><circle cx="437.5" cy="285.4" r="9.2" fill="#c4f1f8" stroke="#1c5468" stroke-width="1.8"/><circle cx="437.5" cy="285.4" r="6.7" fill="url(#hnode)"/><circle cx="455.8" cy="239.2" r="9.2" fill="#c4f1f8" stroke="#1c5468" stroke-width="1.8"/><circle cx="455.8" cy="239.2" r="6.7" fill="url(#hnode)"/><circle cx="511.9" cy="155.2" r="6.5" fill="#7fe4f2" fill-opacity="0.6" filter="url(#blur1)"/><circle cx="511.9" cy="155.2" r="4" fill="#ffffff" stroke="#3fc6d8" stroke-width="2.2"/><circle cx="511.6" cy="414.3" r="6.5" fill="#7fe4f2" fill-opacity="0.6" filter="url(#blur1)"/><circle cx="511.6" cy="414.3" r="4" fill="#c9f4fb" stroke="#2a9fb8" stroke-width="2"/><text x="512.6" y="270.8" font-size="18" fill="#1b2434" stroke="#1b2434" stroke-width="0.8" text-anchor="middle" textLength="98" lengthAdjust="spacingAndGlyphs">MAI-Image-2</text><text x="512.3" y="293.7" font-size="21.4" font-weight="bold" fill="#141c2c" stroke="#141c2c" stroke-width="0.4" text-anchor="middle" textLength="72" lengthAdjust="spacingAndGlyphs">HYBRID</text><text x="512.2" y="310.2" font-size="15.1" fill="#1b2434" stroke="#1b2434" stroke-width="0.75" text-anchor="middle" textLength="104.5" lengthAdjust="spacingAndGlyphs">ARCHITECTURE</text></g>
<g id="ann"><path d="M527,153 H534 Q537,153 539,150.3 H553 M540,154.5 H573 M527,158.7 H563 M527,163.6 H567 M527,167.5 H562" fill="none" stroke="#67727b" stroke-width="0.85"/><path d="M523.5,153 h1.5 M523.5,158.7 h1.5 M523.5,163.6 h1.5 M523.5,167.5 h1.5 M556,150.3 h1.5 M560,150.3 h1.5 M574,158.7 h1.5" stroke="#4a545c" stroke-width="1.2"/><text x="574" y="156.6" font-size="5.5" fill="#5a646c">OIO</text><text x="568.5" y="165.6" font-size="5.5" fill="#5a646c">COL</text><text x="524" y="176" font-size="6.8" fill="#6a747c">$#52S7/59</text><text x="525" y="400.5" font-size="7.4" fill="#5a646c" textLength="20" lengthAdjust="spacingAndGlyphs">LAT/C</text><text x="547" y="400.5" font-size="4.5" fill="#5a646c">1</text><path d="M525,404.2 H565 M525,413 H572" fill="none" stroke="#7a848c" stroke-width="0.9"/><path d="M525,408.6 H560" fill="none" stroke="#7a848c" stroke-width="0.9" stroke-dasharray="1.2 1.5 1.2 1.5 8 1.5"/><text x="565.5" y="407" font-size="7.4" fill="#5a646c" textLength="11" lengthAdjust="spacingAndGlyphs">+12</text><path d="M525,418.6 H543" stroke="#9aa3aa" stroke-width="0.8" stroke-dasharray="1 1"/><text x="544.5" y="421.3" font-size="7.8" fill="#4a545c" textLength="14" lengthAdjust="spacingAndGlyphs">1921</text></g>
<g id="labels"><text x="806.5" y="134" font-size="23.2" font-weight="bold" fill="#121b2e" textLength="97.6" lengthAdjust="spacingAndGlyphs">PINPOINT</text><text x="806.5" y="156" font-size="23.2" font-weight="bold" fill="#121b2e" textLength="142" lengthAdjust="spacingAndGlyphs">COMPOSITION</text><text x="805.8" y="285" font-size="23.2" font-weight="bold" fill="#121b2e" textLength="73.6" lengthAdjust="spacingAndGlyphs">NATIVE</text><text x="806" y="307" font-size="23.2" font-weight="bold" fill="#121b2e" textLength="137" lengthAdjust="spacingAndGlyphs">TYPOGRAPHY</text><text x="806.6" y="430" font-size="23.2" font-weight="bold" fill="#121b2e" textLength="64.8" lengthAdjust="spacingAndGlyphs">STYLE</text><text x="806.6" y="452" font-size="23.2" font-weight="bold" fill="#121b2e" textLength="108.8" lengthAdjust="spacingAndGlyphs">TRANSFER</text><rect x="752.3" y="116.6" width="41.3" height="41" fill="#f1f4f6" stroke="#3a444e" stroke-width="1.5"/><path d="M768.8,116.6 H773.2" stroke="#f1f4f6" stroke-width="2.5"/><path d="M759.4,123.5 H770.5 M772.5,123.5 H778 M787.3,132 V149.4 H775.8" fill="none" stroke="#7d878f" stroke-width="1.4"/><rect x="757.6" y="137.5" width="15.5" height="14.8" fill="url(#hatch)" stroke="#3a4a58" stroke-width="1.3"/><line x1="773.1" y1="136.9" x2="784.9" y2="125.4" stroke="#2c4a60" stroke-width="1.3"/><circle cx="773.1" cy="136.9" r="4.7" fill="#74d3e8" stroke="#24455c" stroke-width="1.2"/><circle cx="784.9" cy="125.4" r="3.9" fill="#9fdff0" stroke="#24455c" stroke-width="1.1"/><path d="M751.5,272 V266.3 H757 M789,266.3 H794.6 V272 M794.6,300.5 V306.3 H789 M757,306.3 H751.5 V300.5" fill="none" stroke="#39434d" stroke-width="1.5"/><path fill-rule="evenodd" d="M753.8,299.5 L754,297.6 L756,297.6 L765.3,273.3 L770.7,273.3 L780,297.6 L782,297.6 L782.2,299.5 L773.2,299.5 L773,297.6 L774.8,297.6 L772.9,292.6 L763.1,292.6 L761.2,297.6 L763,297.6 L762.8,299.5 Z M764.6,288.6 L771.4,288.6 L768,279.2 Z" fill="#b3def2" stroke="#1e4262" stroke-width="1.15" stroke-linejoin="round"/><path d="M782.6,273.3 H790.4 V275.6 H788.7 V297.2 H790.4 V299.5 H782.6 V297.2 H784.3 V275.6 H782.6 Z" fill="#b3def2" stroke="#1e4262" stroke-width="1.15" stroke-linejoin="round"/><rect x="751.5" y="411.5" width="42.8" height="42.8" fill="#f1f4f6" stroke="#39434d" stroke-width="1.5"/><path d="M769.5,411.5 H774.5 M794.3,428 V431" stroke="#f1f4f6" stroke-width="2.5"/><rect x="765" y="424.5" width="15.8" height="15.8" rx="4.2" fill="url(#stripe)" stroke="#2a4f6e" stroke-width="1.3" transform="rotate(45 772.9 432.4)"/><line x1="761" y1="444.8" x2="784.8" y2="421" stroke="#24455c" stroke-width="1.2"/><path d="M787.6,418.2 L786.6,425.6 L780.2,419.2 Z M758.2,447.6 L759.2,440.2 L765.6,446.6 Z" fill="#8fcbe6" stroke="#24455c" stroke-width="1.1" stroke-linejoin="round"/></g>
<text x="167.8" y="422.3" font-size="25.8" font-weight="bold" fill="#141c30" textLength="70.3" lengthAdjust="spacingAndGlyphs">INPUT</text>
<text x="149.7" y="443.7" font-size="18.7" fill="#1e2636" textLength="106.2" lengthAdjust="spacingAndGlyphs">(512 tokens)</text>
<path d="M982.3,512.5 C984,522 989,526 999.5,530 C989,534 984,538 982.3,547.5 C980.6,538 975.6,534 964.8,530 C975.6,526 980.6,522 982.3,512.5 Z" fill="#f3f6f8" fill-opacity="0.95" filter="url(#blur05)"/>
</svg></body></html>
